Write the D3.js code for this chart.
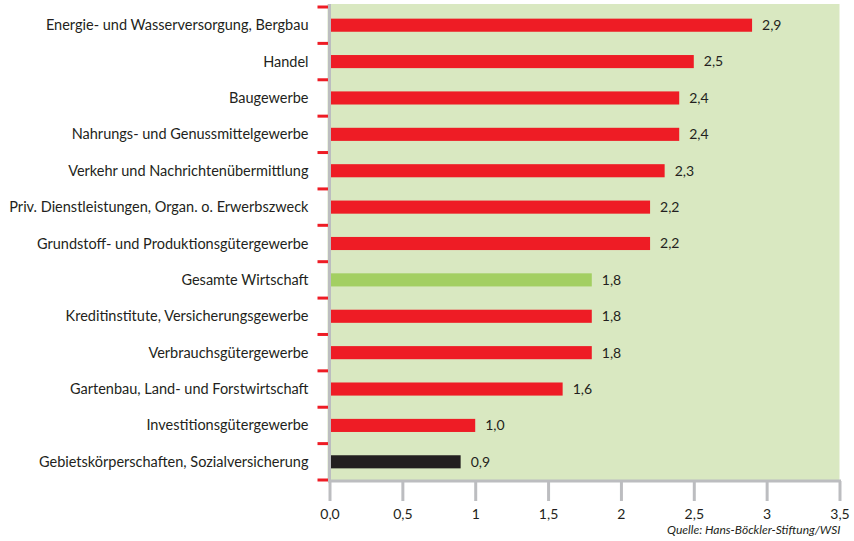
<!DOCTYPE html>
<html>
<head>
<meta charset="utf-8">
<script src="https://cdn.jsdelivr.net/npm/d3@7"></script>
<style>
  body { margin: 0; background: #fff; }
  text { font-family: Lato, "Open Sans", sans-serif; }
</style>
</head>
<body>
<div id="chart"></div>
<script>
const categories = [
  "Energie- und Wasserversorgung, Bergbau",
  "Handel",
  "Baugewerbe",
  "Nahrungs- und Genussmittelgewerbe",
  "Verkehr und Nachrichtenübermittlung",
  "Priv. Dienstleistungen, Organ. o. Erwerbszweck",
  "Grundstoff- und Produktionsgütergewerbe",
  "Gesamte Wirtschaft",
  "Kreditinstitute, Versicherungsgewerbe",
  "Verbrauchsgütergewerbe",
  "Gartenbau, Land- und Forstwirtschaft",
  "Investitionsgütergewerbe",
  "Gebietskörperschaften, Sozialversicherung"
];
const values = [2.9, 2.5, 2.4, 2.4, 2.3, 2.2, 2.2, 1.8, 1.8, 1.8, 1.6, 1.0, 0.9];
const barKind = ["sector", "sector", "sector", "sector", "sector", "sector", "sector",
                 "total", "sector", "sector", "sector", "sector", "public"];
const xTicks = [0, 0.5, 1, 1.5, 2, 2.5, 3, 3.5];
const xTickLabels = ["0,0", "0,5", "1", "1,5", "2", "2,5", "3", "3,5"];
const source = "Quelle: Hans-Böckler-Stiftung/WSI";

const outerWidth = 854, outerHeight = 541;
const margin = {top: 7, left: 329.5, right: 14.5, bottom: 61};
const width = outerWidth - margin.left - margin.right;
const height = outerHeight - margin.top - margin.bottom;

const svg = d3.select("#chart").append("svg")
  .attr("width", outerWidth)
  .attr("height", outerHeight)
  .append("g")
  .attr("transform", `translate(${margin.left}, ${margin.top})`);

const xScale = d3.scaleLinear().domain([0, 3.5]).range([0, width]);
const yScale = d3.scaleBand().domain(categories).range([0, height])
  .paddingInner(0.64).paddingOuter(0.32);

const color = d3.scaleOrdinal()
  .domain(["sector", "total", "public"])
  .range(["#ee1c25", "#a3cf62", "#231f20"]);

// green plot background
svg.append("rect")
  .attr("x", -2)
  .attr("y", -3)
  .attr("width", width + 2)
  .attr("height", height + 3)
  .attr("fill", "#d9e8c1");

// bars
svg.selectAll(".bar")
  .data(values)
  .join("rect")
  .attr("class", "bar")
  .attr("x", xScale(0))
  .attr("y", (d, i) => yScale(categories[i]))
  .attr("width", d => xScale(d))
  .attr("height", yScale.bandwidth())
  .attr("fill", (d, i) => color(barKind[i]));

// value labels
svg.selectAll(".val")
  .data(values)
  .join("text")
  .attr("class", "val")
  .attr("x", d => xScale(d) + 10)
  .attr("y", (d, i) => yScale(categories[i]) + yScale.bandwidth() / 2)
  .attr("dy", "0.35em")
  .attr("font-size", 14)
  .attr("fill", "#231f20")
  .text(d => d3.format(".1f")(d).replace(".", ","));

// x axis
const xAxis = d3.axisBottom(xScale)
  .tickValues(xTicks)
  .tickFormat((d, i) => xTickLabels[i])
  .tickSize(20)
  .tickPadding(8);

const gx = svg.append("g")
  .attr("transform", `translate(0, ${height + 1})`)
  .call(xAxis);
gx.select(".domain").attr("stroke", "#bcbdc0").attr("stroke-width", 3)
  .attr("d", `M-1.5,0H${width + 1.5}`);
gx.selectAll(".tick line").attr("stroke", "#bcbdc0").attr("stroke-width", 3);
gx.selectAll(".tick text").attr("font-size", 14).attr("fill", "#231f20")
  .attr("font-family", "Lato, sans-serif");

// y axis: grey spine, red ticks between bands, labels
svg.append("line")
  .attr("x1", 0).attr("x2", 0)
  .attr("y1", -3).attr("y2", height + 2.5)
  .attr("stroke", "#bcbdc0").attr("stroke-width", 3);

const step = yScale.step();
svg.selectAll(".ytick")
  .data(d3.range(categories.length + 1))
  .join("line")
  .attr("class", "ytick")
  .attr("x1", -12).attr("x2", -1.5)
  .attr("y1", i => i * step)
  .attr("y2", i => i * step)
  .attr("stroke", "#ee1c25").attr("stroke-width", 3);

svg.selectAll(".ylab")
  .data(categories)
  .join("text")
  .attr("class", "ylab")
  .attr("x", -21)
  .attr("y", d => yScale(d) + yScale.bandwidth() / 2)
  .attr("dy", "0.35em")
  .attr("text-anchor", "end")
  .attr("font-size", 14.5)
  .attr("fill", "#231f20")
  .text(d => d);

svg.append("text")
  .attr("x", width + 1)
  .attr("y", height + 54)
  .attr("text-anchor", "end")
  .attr("font-size", 12)
  .attr("font-style", "italic")
  .attr("fill", "#231f20")
  .text(source);
</script>
</body>
</html>
